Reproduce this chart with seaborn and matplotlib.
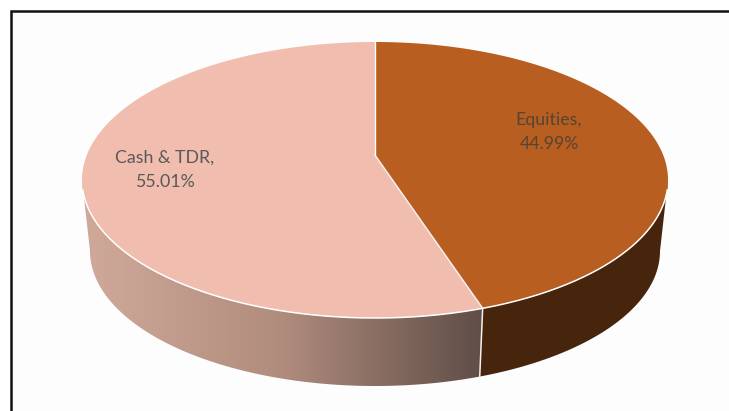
import numpy as np
import matplotlib
matplotlib.use("Agg")
import matplotlib.pyplot as plt
from matplotlib.colors import LinearSegmentedColormap
from matplotlib.patches import Polygon, Rectangle
import seaborn as sns

categories = ["Equities", "Cash & TDR"]
shares = [44.99, 55.01]

# top face and bottom rim of the disc, in pixels
TOP = (375, 180, 293, 138)
BOTTOM = (375, 251, 285, 135)
K = 0.18  # perspective: pulls the pie centre up from the ellipse centre


def project(deg, ellipse):
    # deg runs clockwise from 12 o'clock on a flat pie
    cx, cy, rx, ry = ellipse
    t = np.radians(deg)
    x, y = np.sin(t), np.cos(t)
    den = 1 + K * y
    return cx + rx * x * np.sqrt(1 - K ** 2) / den, cy - ry * (y + K) / den


def wall_points(start, end):
    a = np.linspace(start, end, 200)
    x1, y1 = project(a, TOP)
    x2, y2 = project(a[::-1], BOTTOM)
    return np.column_stack([np.r_[x1, x2], np.r_[y1, y2]])


def main():
    sns.set_theme(style="white")
    plt.rcParams['font.family'] = ['Lato', 'DejaVu Sans']
    face_colors = sns.color_palette(["#b85e20", "#f0bdae"])

    fig = plt.figure(figsize=(7.29, 4.11), dpi=100)
    ax = fig.add_axes([0, 0, 1, 1])
    ax.axis('off')

    ax.add_patch(Rectangle((11, 11), 800, 500, facecolor='#fdfdfd', edgecolor='#111111', linewidth=1.8, zorder=0))

    split = shares[0] / sum(shares) * 360
    tangent = np.degrees(np.arccos(-K))  # where the rim meets the widest point
    apex_y = TOP[1] - TOP[3] * K

    # side walls
    ax.add_patch(Polygon(wall_points(tangent, split), facecolor='#47250d', edgecolor='none', zorder=1))
    left_wall = Polygon(wall_points(split, 360 - tangent), facecolor='none', edgecolor='none', zorder=1)
    ax.add_patch(left_wall)
    cmap = LinearSegmentedColormap.from_list('wall', ['#d0a99a', '#b08c7d', '#5f4d47'])
    img = ax.imshow(np.linspace(0, 1, 256).reshape(1, -1), cmap=cmap, extent=(82, 484, 411, 0), aspect='auto', zorder=1)
    img.set_clip_path(left_wall)

    # top face
    starts = [0, split]
    ends = [split, 360]
    for start, end, color in zip(starts, ends, face_colors):
        x, y = project(np.linspace(start, end, 300), TOP)
        pts = np.column_stack([np.r_[TOP[0], x], np.r_[apex_y, y]])
        ax.add_patch(Polygon(pts, facecolor=color, edgecolor='none', zorder=2))

    # white seams
    x, y = project(np.linspace(tangent + 4, 360 - tangent - 4, 300), TOP)
    ax.plot(x, y, color='white', linewidth=1.1, zorder=3)
    sx, sy = project(split, TOP)
    bx, by = project(split, BOTTOM)
    ax.plot([TOP[0], sx, bx], [apex_y, sy, by], color='#f4f0ee', linewidth=1.1, zorder=3)
    ax.plot([TOP[0], TOP[0]], [apex_y, TOP[1] - TOP[3]], color='white', linewidth=1.0, zorder=3)

    # labels
    label_pos = [(549, 132), (165, 170)]
    for name, share, (lx, ly) in zip(categories, shares, label_pos):
        ax.text(lx, ly, f"{name},\n{share:.2f}%", ha='center', va='center', fontsize=12.8,
                color='#595959' if name != "Equities" else '#574432', linespacing=1.62, zorder=4)

    ax.set_xlim(0, 729)
    ax.set_ylim(411, 0)
    fig.savefig('out.png', dpi=100)


if __name__ == "__main__":
    main()
